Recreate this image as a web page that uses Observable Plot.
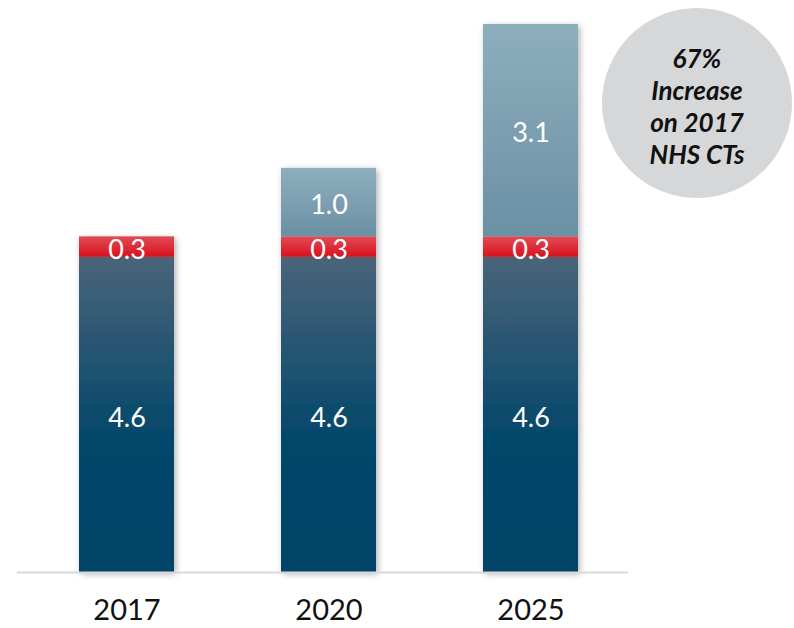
<!DOCTYPE html>
<html>
<head>
<meta charset="utf-8">
<script src="https://cdn.jsdelivr.net/npm/d3@7"></script>
<script src="https://cdn.jsdelivr.net/npm/@observablehq/plot@0.6"></script>
<style>
  html, body { margin: 0; padding: 0; background: #fff; }
  #wrap { position: relative; width: 794px; height: 628px; overflow: hidden; }
  #bubble {
    position: absolute; left: 602px; top: 8px; width: 190px; height: 190px;
    border-radius: 50%; background: #d6d7d9;
    display: flex; align-items: center; justify-content: center; text-align: center;
    font-family: Lato, "Open Sans", sans-serif; font-weight: 700; font-style: italic;
    font-size: 26px; line-height: 32px; color: #111; padding-top: 5px; box-sizing: border-box;
  }
</style>
</head>
<body>
<div id="wrap"><div id="bubble">67%<br>Increase<br>on 2017<br>NHS CTs</div></div>
<script>
const years = ["2017", "2020", "2025"];
const baseValues = [4.6, 4.6, 4.6];
const redValues = [0.3, 0.3, 0.3];
const extraValues = [null, 1.0, 3.1];
const seriesNames = ["base", "red", "extra"];
const seriesFills = ["url(#gBase)", "url(#gRed)", "url(#gExtra)"];

const rows = [];
years.forEach((yr, i) => {
  rows.push({year: yr, series: "base", value: baseValues[i]});
  rows.push({year: yr, series: "red", value: redValues[i]});
  if (extraValues[i] != null) rows.push({year: yr, series: "extra", value: extraValues[i]});
});

const chart = Plot.plot({
  width: 794,
  height: 628,
  marginLeft: 17,
  marginRight: 166,
  marginTop: 24,
  marginBottom: 56,
  style: {fontFamily: "Lato, sans-serif", background: "transparent"},
  x: {domain: years, paddingInner: 0.53, paddingOuter: 0.2772, align: 0.554, label: null, tickSize: 0, tickPadding: 27},
  y: {domain: [0, 8], axis: null},
  color: {type: "ordinal", domain: seriesNames, range: seriesFills},
  marks: [
    Plot.barY(rows, Plot.stackY({x: "year", y: "value", z: "series", fill: "series", order: seriesNames})),
    Plot.ruleY([0], {stroke: "#d9d9d9", strokeWidth: 2}),
    Plot.text(rows, Plot.stackY({x: "year", y: "value", z: "series", order: seriesNames, text: d => d.value.toFixed(1), fill: "white", fontSize: 27, dy: 3, fontFamily: "Lato, sans-serif"}))
  ]
});

const svg = d3.select(chart);
svg.selectAll("g[aria-label='x-axis tick label']").attr("font-size", 29).attr("fill", "#111");
const defs = svg.insert("defs", ":first-child");
function grad(id, stops) {
  const g = defs.append("linearGradient").attr("id", id).attr("x1", 0).attr("y1", 0).attr("x2", 0).attr("y2", 1);
  stops.forEach(([o, c]) => g.append("stop").attr("offset", o).attr("stop-color", c));
}
grad("gBase", [["0%", "#4a6479"], ["60%", "#00466a"], ["100%", "#004467"]]);
grad("gRed", [["0%", "#e24a55"], ["100%", "#d8121e"]]);
grad("gExtra", [["0%", "#8eaebd"], ["100%", "#6b90a4"]]);
const f = defs.append("filter").attr("id", "shadow").attr("x", "-20%").attr("y", "-20%").attr("width", "140%").attr("height", "140%");
f.append("feDropShadow").attr("dx", 2).attr("dy", 2).attr("stdDeviation", 3).attr("flood-color", "#000").attr("flood-opacity", 0.3);
svg.select("g[aria-label='bar']").attr("filter", "url(#shadow)");

document.getElementById("wrap").prepend(chart);
chart.style.position = "absolute";
chart.style.left = "0px";
chart.style.top = "0px";
</script>
</body>
</html>
